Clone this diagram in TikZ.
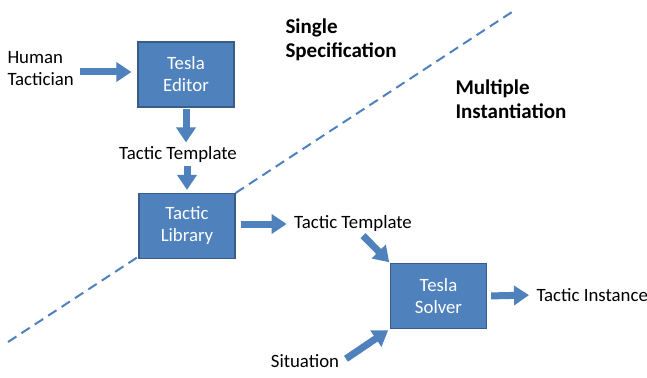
\documentclass[tikz,border=0pt]{standalone}
\usepackage{fontspec}
\setmainfont{Carlito}
\usetikzlibrary{arrows.meta,positioning}
\definecolor{bleu}{HTML}{4F81BD}
\definecolor{bleufonce}{HTML}{385D8A}

\begin{document}
\begin{tikzpicture} [x=1pt, y=-1pt, font=\fontsize{18.8}{22}\selectfont]
%styles : boîtes bleues et flèches épaisses
\tikzset{boite/.style={draw=bleufonce,line width=1.2pt,fill=bleu,text=white,minimum width=96pt,minimum height=65pt,align=center,inner sep=0pt}}
\tikzset{fleche/.style={bleu,line width=7pt,-{Triangle[width=19pt,length=15pt]}}}
\tikzset{titre/.style={anchor=west,align=left,font=\fontsize{21}{24.5}\selectfont\bfseries}}
\useasboundingbox (0,0) rectangle (647,377);
%ligne de séparation
\draw[bleu,line width=2pt,dash pattern=on 10pt off 6pt] (8,342) -- (512,12);
\node[titre] (single) at (282,40) {Single\\Specification};
\node[titre] (multiple) at (452,99) {Multiple\\Instantiation};

\node[boite] (editeur) at (186,74.5) {Tesla\\Editor};
\node[boite] (biblio) at (187,226) {Tactic\\Library};
\node[boite] (solveur) at (438.5,296) {Tesla\\Solver};
\node[align=left,anchor=west] (humain) at (4,69) {Human\\Tactician};
\node (modele1) at (178,154) {Tactic Template};
\node (modele2) at (353,223) {Tactic Template};
\node (situation) at (305,361) {Situation};
\node[anchor=west] (instance) at (533,295) {Tactic Instance};

\draw[fleche,shorten <=3pt,shorten >=6pt] (humain.east |- 0,72) -- (editeur.west |- 0,72);
\draw[fleche,shorten <=1pt] (editeur.south) -- (editeur.south |- modele1.north);
\draw[fleche,shorten >=3pt] (modele1.south -| biblio.north) -- (biblio.north);
\draw[fleche,shorten <=5pt,shorten >=4pt] (biblio.east |- 0,224) -- (modele2.west |- 0,224);
\draw[fleche,shorten >=1pt] ([xshift=10pt,yshift=-1pt]modele2.south) -- (solveur.north west);
\draw[fleche,shorten <=4pt,shorten >=2pt] (situation.east) -- (solveur.south west);
\draw[fleche,shorten <=4pt,shorten >=4pt] (solveur.east) -- (instance.west);
\end{tikzpicture}
\end{document}
